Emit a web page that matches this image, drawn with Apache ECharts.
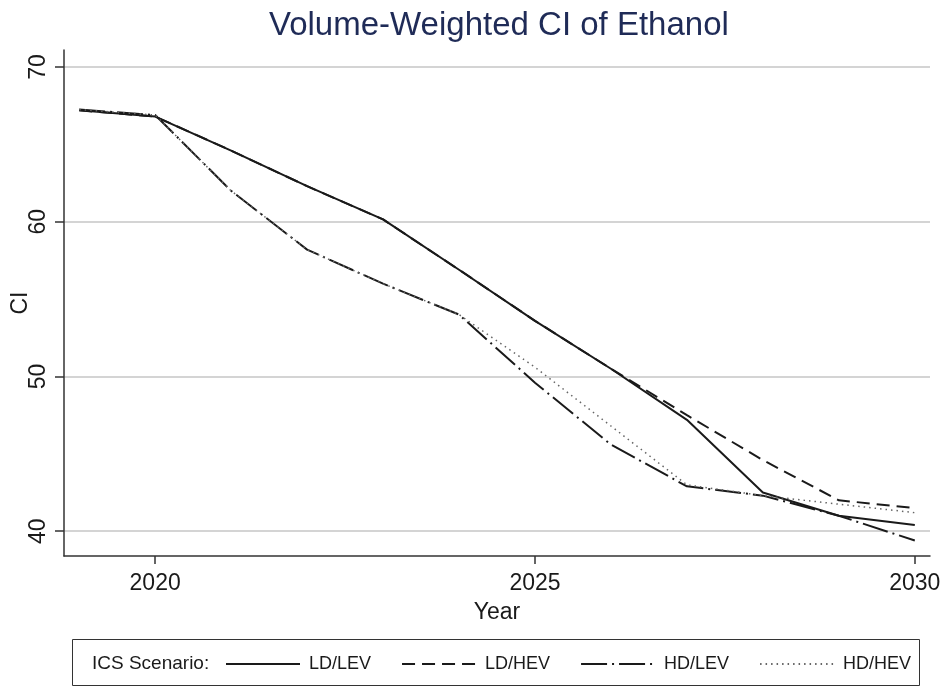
<!DOCTYPE html>
<html>
<head>
<meta charset="utf-8">
<title>Volume-Weighted CI of Ethanol</title>
<script src="https://cdn.jsdelivr.net/npm/echarts@6/dist/echarts.min.js"></script>
<style>
  html, body { margin: 0; padding: 0; background: #ffffff; }
  #chart { width: 947px; height: 687px; }
</style>
</head>
<body>
<div id="chart"></div>
<script>
// Years on the horizontal axis
const years = [2019, 2020, 2021, 2022, 2023, 2024, 2025, 2026, 2027, 2028, 2029, 2030];

// Volume-weighted carbon intensity by ICS scenario
const ldLev = [67.2, 66.8, 64.6, 62.3, 60.15, 56.9, 53.6, 50.5, 47.2, 42.5, 41.0, 40.4];
const ldHev = [67.2, 66.8, 64.6, 62.3, 60.15, 56.9, 53.6, 50.5, 47.5, 44.6, 42.0, 41.5];
const hdLev = [67.25, 66.9, 62.0, 58.2, 56.0, 54.0, 49.6, 45.6, 42.9, 42.3, 41.0, 39.4];
const hdHev = [67.25, 66.9, 62.0, 58.2, 56.0, 54.0, 50.6, 46.8, 43.0, 42.3, 41.75, 41.2];

const scenarioNames = ['LD/LEV', 'LD/HEV', 'HD/LEV', 'HD/HEV'];

// Tick labels
const xTicks = [2020, 2025, 2030];
const yTicks = [40, 50, 60, 70];

const FONT = "'Liberation Sans', Arial, Helvetica, sans-serif";
const INK = '#1a1a1a';

function pairs(values) {
  return years.map((y, i) => [y, values[i]]);
}

function lineSeries(name, values, lineStyle) {
  return {
    name: name,
    type: 'line',
    data: pairs(values),
    symbol: 'none',
    showSymbol: false,
    smooth: false,
    lineStyle: Object.assign({ color: INK, width: 2 }, lineStyle),
    itemStyle: { color: lineStyle.color || INK },
    emphasis: { disabled: true },
    animation: false
  };
}

const chart = echarts.init(document.getElementById('chart'), null, { renderer: 'canvas' });

const option = {
  backgroundColor: '#ffffff',
  animation: false,
  title: {
    text: 'Volume-Weighted CI of Ethanol',
    left: 264,
    top: 4,
    textStyle: {
      fontFamily: FONT,
      fontSize: 33,
      fontWeight: 'normal',
      color: '#1f2b57'
    }
  },
  grid: {
    left: 64,
    right: 17,
    top: 50,
    bottom: 131,
    containLabel: false,
    outerBoundsMode: 'none'
  },
  xAxis: {
    type: 'value',
    min: 2018.8,
    max: 2030.2,
    name: 'Year',
    nameLocation: 'middle',
    nameGap: 45,
    nameMoveOverlap: false,
    nameTextStyle: { fontFamily: FONT, fontSize: 23, color: INK },
    axisLine: { show: true, onZero: false, lineStyle: { color: '#333333', width: 1.5 } },
    axisTick: { show: true, length: 8, customValues: xTicks, lineStyle: { color: '#333333', width: 1.5 } },
    axisLabel: {
      customValues: xTicks,
      margin: 16,
      fontFamily: FONT,
      fontSize: 23,
      color: INK,
      formatter: v => String(v)
    },
    splitLine: { show: false }
  },
  yAxis: {
    type: 'value',
    min: 38.4,
    max: 71.1,
    name: 'CI',
    nameLocation: 'middle',
    nameGap: 32,
    nameRotate: 90,
    nameMoveOverlap: false,
    nameTextStyle: { fontFamily: FONT, fontSize: 23, color: INK },
    axisLine: { show: true, onZero: false, lineStyle: { color: '#333333', width: 1.5 } },
    axisTick: { show: true, length: 9, customValues: yTicks, lineStyle: { color: '#333333', width: 1.5 } },
    axisLabel: {
      customValues: yTicks,
      rotate: 90,
      margin: 14,
      fontFamily: FONT,
      fontSize: 23,
      color: INK,
      formatter: v => String(v)
    },
    splitLine: { show: true, lineStyle: { color: '#d4d4d4', width: 2 } }
  },
  legend: {
    left: 220,
    top: 650,
    orient: 'horizontal',
    itemWidth: 74,
    itemHeight: 14,
    itemGap: 30,
    selectedMode: false,
    data: scenarioNames,
    // hide the marker dot so only the line pattern shows
    itemStyle: { opacity: 0 },
    textStyle: {
      fontFamily: FONT,
      fontSize: 18,
      color: INK,
      padding: [0, 0, 0, 4]
    }
  },
  graphic: [
    {
      type: 'rect',
      shape: { x: 72.5, y: 639.5, width: 847, height: 46 },
      style: { fill: 'none', stroke: '#333333', lineWidth: 1 },
      silent: true
    },
    {
      type: 'text',
      left: 92,
      top: 654,
      style: {
        text: 'ICS Scenario:',
        font: '19px ' + FONT,
        fill: INK
      },
      silent: true
    }
  ],
  series: [
    lineSeries(scenarioNames[0], ldLev, { type: 'solid', width: 2 }),
    lineSeries(scenarioNames[1], ldHev, { type: [13, 7], width: 2 }),
    lineSeries(scenarioNames[2], hdLev, { type: [26, 5, 2, 5], width: 2 }),
    lineSeries(scenarioNames[3], hdHev, { type: [1.5, 4], width: 1.5, color: '#666666' })
  ]
};

chart.setOption(option);
</script>
</body>
</html>
